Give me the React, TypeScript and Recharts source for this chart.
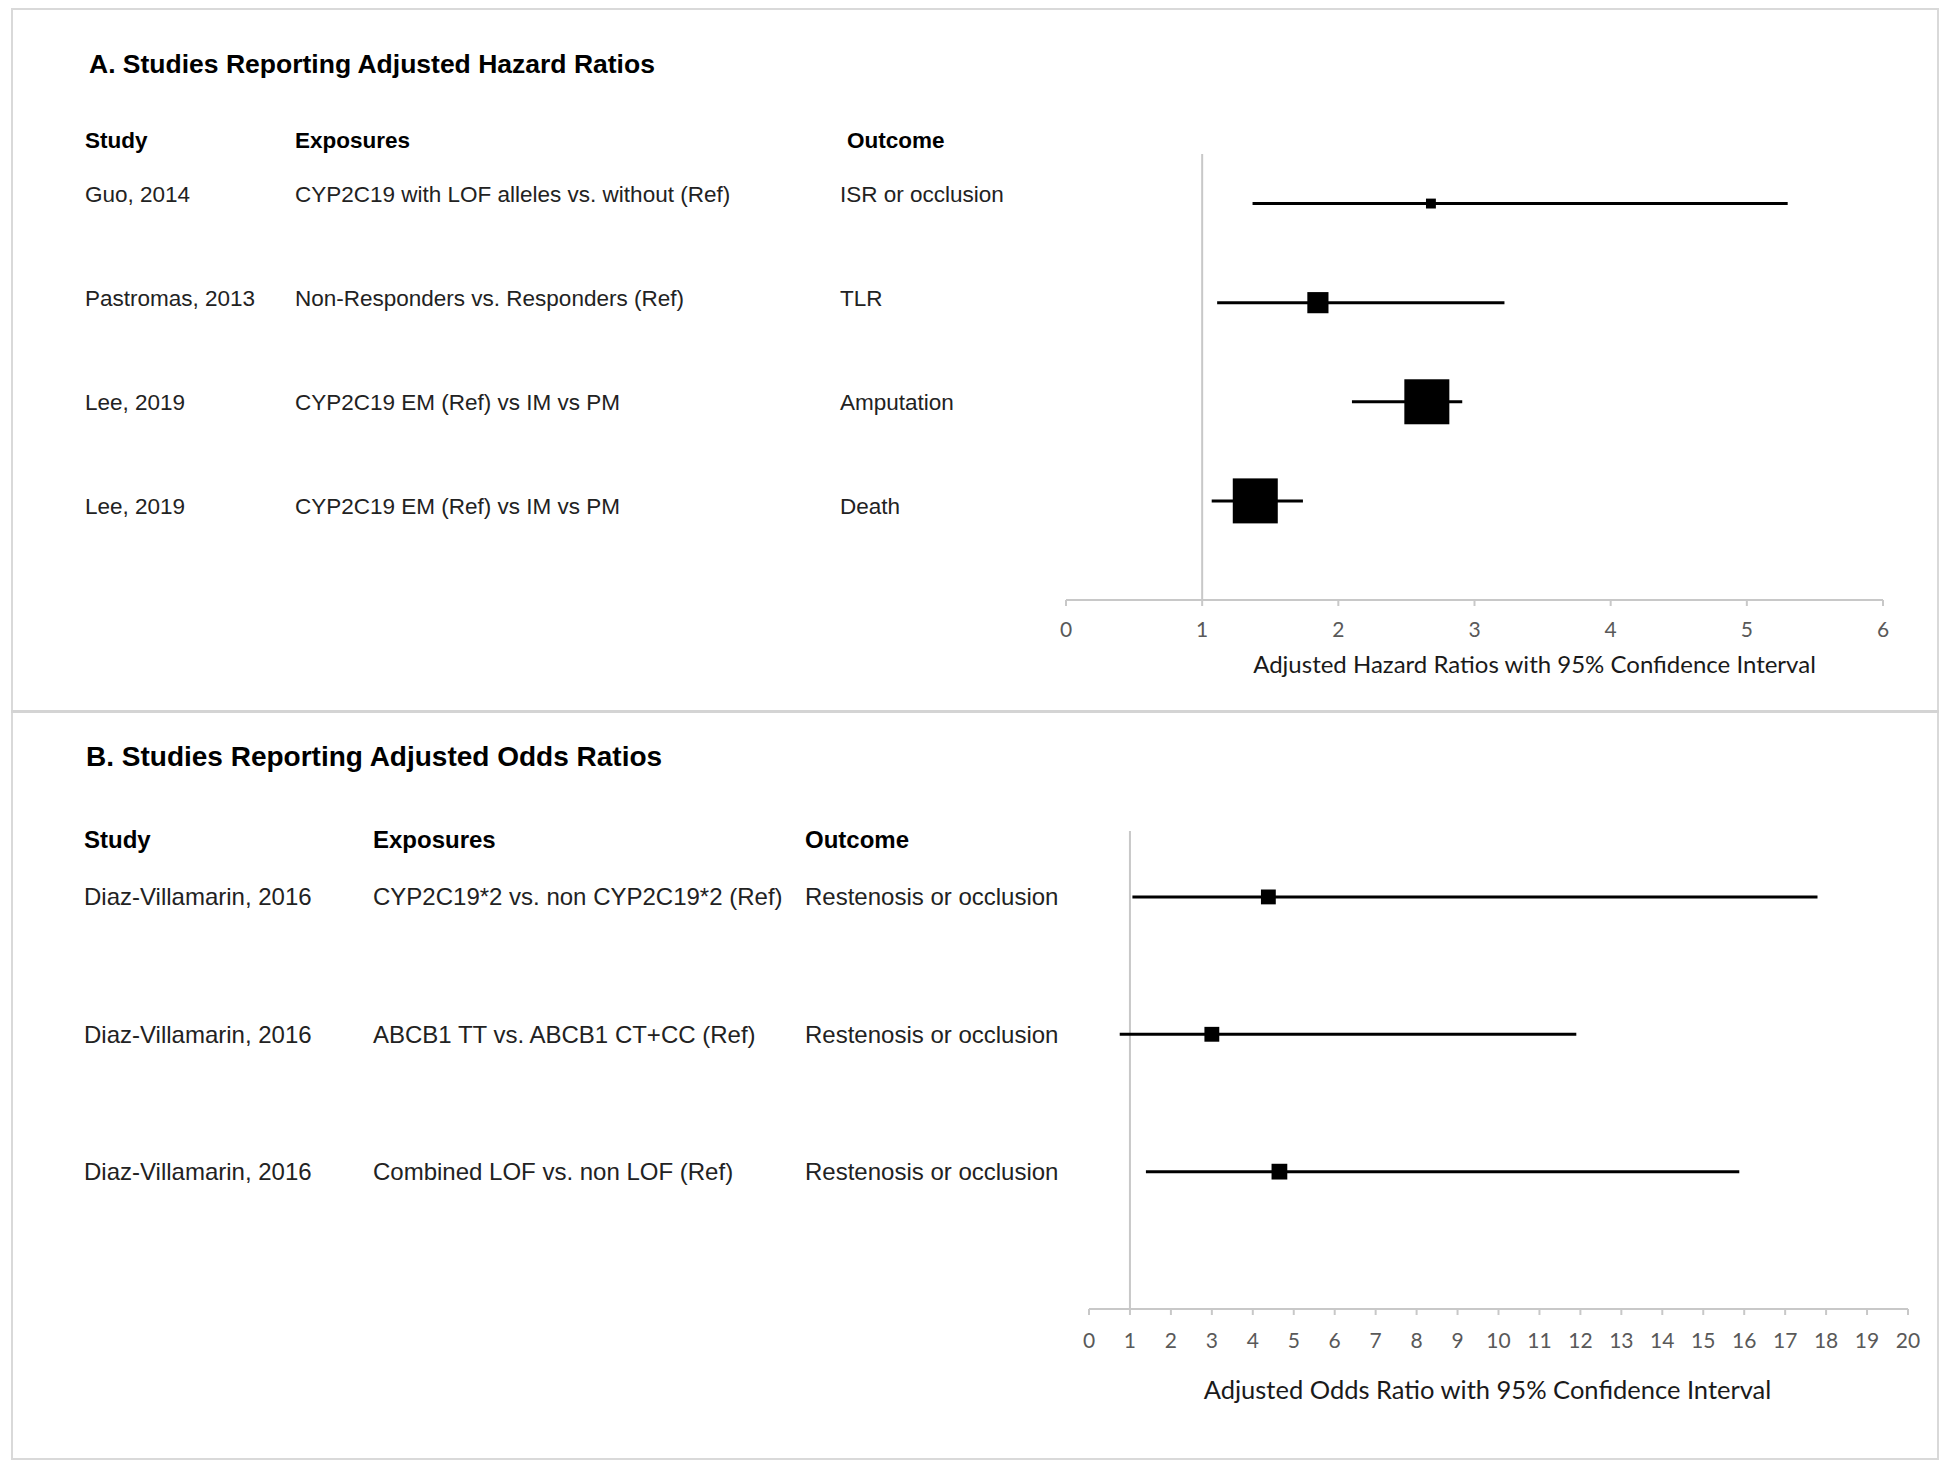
import React from 'react';
import { ScatterChart, Scatter, XAxis, YAxis, ErrorBar, ReferenceLine, Label } from 'recharts';

// A. adjusted hazard ratios
const hrStudies = ['Guo, 2014', 'Pastromas, 2013', 'Lee, 2019', 'Lee, 2019'];
const hrExposures = [
  'CYP2C19 with LOF alleles vs. without (Ref)',
  'Non-Responders vs. Responders (Ref)',
  'CYP2C19 EM (Ref) vs IM vs PM',
  'CYP2C19 EM (Ref) vs IM vs PM',
];
const hrOutcomes = ['ISR or occlusion', 'TLR', 'Amputation', 'Death'];
const hrEstimates = [2.68, 1.85, 2.65, 1.39];
const hrLower = [1.37, 1.11, 2.1, 1.07];
const hrUpper = [5.3, 3.22, 2.91, 1.74];
const hrWeights = [2.2, 4.7, 10, 10];
const hrTicks = [0, 1, 2, 3, 4, 5, 6];

// B. adjusted odds ratios
const orStudies = ['Diaz-Villamarin, 2016', 'Diaz-Villamarin, 2016', 'Diaz-Villamarin, 2016'];
const orExposures = [
  'CYP2C19*2 vs. non CYP2C19*2 (Ref)',
  'ABCB1 TT vs. ABCB1 CT+CC (Ref)',
  'Combined LOF vs. non LOF (Ref)',
];
const orOutcomes = ['Restenosis or occlusion', 'Restenosis or occlusion', 'Restenosis or occlusion'];
const orEstimates = [4.38, 3.0, 4.65];
const orLower = [1.06, 0.75, 1.39];
const orUpper = [17.79, 11.9, 15.88];
const orWeights = [3.3, 3.3, 3.5];
const orTicks = [0, 1, 2, 3, 4, 5, 6, 7, 8, 9, 10, 11, 12, 13, 14, 15, 16, 17, 18, 19, 20];

const ARIAL = "'Liberation Sans', Arial, sans-serif";
const CALIBRI = "Lato, 'Open Sans', sans-serif";
const GRID = '#c8c8c8';

const Square = (props: any) => {
  const { cx, cy, payload } = props;
  const s = payload.w * 4.5;
  return <rect x={cx - s / 2} y={cy - s / 2} width={s} height={s} fill="#000" />;
};

interface PanelProps {
  top: number;
  height: number;
  margin: { top: number; right: number; bottom: number; left: number };
  xAxisHeight: number;
  rowDomain: [number, number];
  tableDomain: [number, number];
  ticks: number[];
  studies: string[];
  exposures: string[];
  outcomes: string[];
  estimates: number[];
  lower: number[];
  upper: number[];
  weights: number[];
  cols: [number, number, number];
  fontSize: number;
  tickMargin: number;
  axisTitle: string;
  titleSize: number;
  titleDx: number;
  titleDy: number;
}

const ForestPanel: React.FC<PanelProps> = (p) => {
  const data = p.estimates.map((v, i) => ({
    x: v,
    y: i + 1,
    err: [v - p.lower[i], p.upper[i] - v],
    w: p.weights[i],
  }));
  const rowTicks = p.studies.map((_, i) => i + 1);

  const RowTick = (props: any) => {
    const { y, payload } = props;
    const i = payload.value - 1;
    return (
      <g fontFamily={ARIAL} fontSize={p.fontSize} fill="#222">
        <text x={p.cols[0]} y={y} dy="0.35em">{p.studies[i]}</text>
        <text x={p.cols[1]} y={y} dy="0.35em">{p.exposures[i]}</text>
        <text x={p.cols[2]} y={y} dy="0.35em">{p.outcomes[i]}</text>
      </g>
    );
  };

  return (
    <div style={{ position: 'absolute', left: 0, top: p.top }}>
      <ScatterChart width={1946} height={p.height} margin={p.margin}>
        <XAxis
          type="number"
          dataKey="x"
          domain={[p.ticks[0], p.ticks[p.ticks.length - 1]]}
          ticks={p.ticks}
          interval={0}
          allowDataOverflow
          height={p.xAxisHeight}
          stroke={GRID}
          strokeWidth={2}
          tickSize={6}
          tickMargin={p.tickMargin}
          tick={{ fill: '#595959', fontSize: 21, fontFamily: CALIBRI }}
        >
          <Label
            content={({ viewBox }: any) => (
              <text
                x={viewBox.x + viewBox.width / 2 + p.titleDx}
                y={viewBox.y + p.titleDy}
                dy="0.35em"
                textAnchor="middle"
                fontFamily={CALIBRI}
                fontSize={p.titleSize}
                fill="#1a1a1a"
              >
                {p.axisTitle}
              </text>
            )}
          />
        </XAxis>
        <YAxis
          yAxisId="table"
          type="number"
          domain={p.tableDomain}
          reversed
          allowDataOverflow
          ticks={rowTicks}
          interval={0}
          width={1}
          axisLine={false}
          tickLine={false}
          tick={<RowTick />}
        />
        <YAxis yAxisId="rows" type="number" dataKey="y" domain={p.rowDomain} reversed allowDataOverflow hide />
        <ReferenceLine yAxisId="rows" x={1} stroke={GRID} strokeWidth={2} />
        <Scatter yAxisId="rows" data={data} shape={<Square />} isAnimationActive={false}>
          <ErrorBar dataKey="err" direction="x" width={0} stroke="#000" strokeWidth={3} isAnimationActive={false} />
        </Scatter>
      </ScatterChart>
    </div>
  );
};

const txt = (x: number, cy: number, size: number, bold: boolean, s: string) => (
  <div
    style={{
      position: 'absolute',
      left: x,
      top: cy - 20,
      height: 40,
      lineHeight: '40px',
      fontFamily: ARIAL,
      fontSize: size,
      fontWeight: bold ? 700 : 400,
      color: bold ? '#000' : '#222',
      whiteSpace: 'nowrap',
    }}
  >
    {s}
  </div>
);

export default function App() {
  return (
    <div style={{ position: 'absolute', left: 0, top: 0, width: 1946, height: 1469, background: '#fff', overflow: 'hidden' }}>
      <div
        style={{
          position: 'absolute',
          left: 11,
          top: 8,
          width: 1928,
          height: 1452,
          border: '2px solid #d9d9d9',
          boxSizing: 'border-box',
        }}
      />
      <div style={{ position: 'absolute', left: 11, top: 710, width: 1928, height: 3, background: '#d4d4d4' }} />

      {txt(89, 64, 26.5, true, 'A. Studies Reporting Adjusted Hazard Ratios')}
      {txt(85, 141, 22.5, true, 'Study')}
      {txt(295, 141, 22.5, true, 'Exposures')}
      {txt(847, 141, 22.5, true, 'Outcome')}

      {txt(86, 757, 28, true, 'B. Studies Reporting Adjusted Odds Ratios')}
      {txt(84, 840, 24, true, 'Study')}
      {txt(373, 840, 24, true, 'Exposures')}
      {txt(805, 840, 24, true, 'Outcome')}

      <ForestPanel
        top={0}
        height={712}
        margin={{ top: 154, right: 63, bottom: 32, left: 1065 }}
        xAxisHeight={80}
        rowDomain={[0.5, 5]}
        tableDomain={[0.615, 4.904]}
        ticks={hrTicks}
        studies={hrStudies}
        exposures={hrExposures}
        outcomes={hrOutcomes}
        estimates={hrEstimates}
        lower={hrLower}
        upper={hrUpper}
        weights={hrWeights}
        cols={[85, 295, 840]}
        fontSize={22.5}
        tickMargin={16}
        axisTitle="Adjusted Hazard Ratios with 95% Confidence Interval"
        titleSize={24}
        titleDx={60}
        titleDy={65}
      />
      <ForestPanel
        top={712}
        height={757}
        margin={{ top: 119, right: 38, bottom: 60, left: 1088 }}
        xAxisHeight={100}
        rowDomain={[0.52, 4]}
        tableDomain={[0.52, 4]}
        ticks={orTicks}
        studies={orStudies}
        exposures={orExposures}
        outcomes={orOutcomes}
        estimates={orEstimates}
        lower={orLower}
        upper={orUpper}
        weights={orWeights}
        cols={[84, 373, 805]}
        fontSize={24}
        tickMargin={18}
        axisTitle="Adjusted Odds Ratio with 95% Confidence Interval"
        titleSize={25.5}
        titleDx={-11}
        titleDy={81}
      />
    </div>
  );
}
